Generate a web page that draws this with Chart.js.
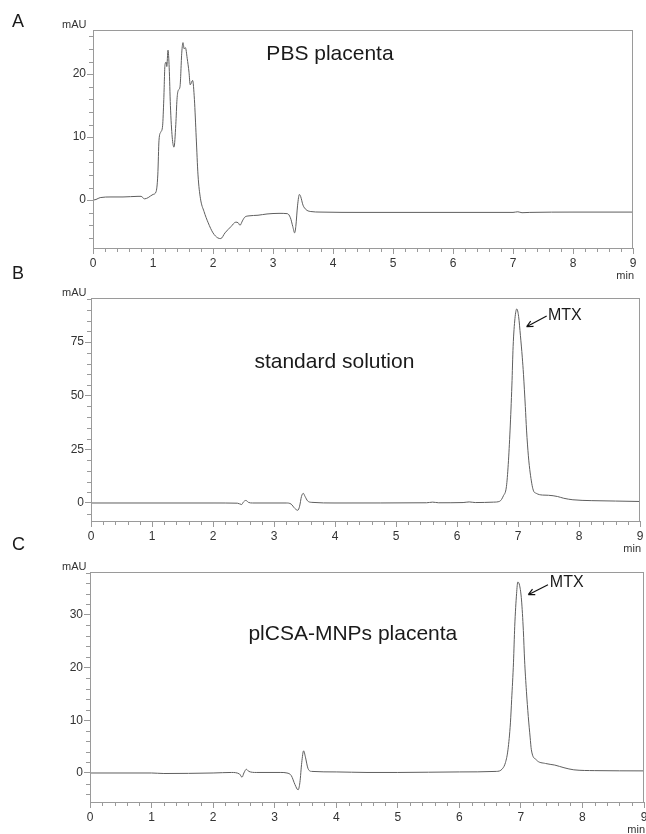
<!DOCTYPE html>
<html>
<head>
<meta charset="utf-8">
<script src="https://cdn.jsdelivr.net/npm/chart.js@4.4.0/dist/chart.umd.min.js"></script>
<style>
  html, body { margin: 0; padding: 0; background: #fff; }
  #wrap { position: relative; width: 646px; height: 834px; }
  #wrap canvas { position: absolute; left: 0; top: 0; }
</style>
</head>
<body>
<div id="wrap">
  <canvas id="chartA" width="646" height="834"></canvas>
  <canvas id="chartB" width="646" height="834"></canvas>
  <canvas id="chartC" width="646" height="834"></canvas>
</div>
<script>
// ── DATA (retention time in min, absorbance in mAU) ───────────────────
const timesA = [0, 0.05, 0.12, 0.3, 0.5, 0.75, 0.8, 0.86, 0.92, 1.0, 1.05, 1.08, 1.1, 1.13, 1.16, 1.18, 1.2, 1.22, 1.23, 1.25, 1.27, 1.29, 1.32, 1.35, 1.38, 1.4, 1.42, 1.45, 1.48, 1.5, 1.52, 1.54, 1.57, 1.6, 1.62, 1.66, 1.69, 1.72, 1.75, 1.79, 1.85, 1.92, 2.0, 2.08, 2.13, 2.2, 2.3, 2.38, 2.42, 2.45, 2.49, 2.53, 2.6, 2.75, 2.9, 3.1, 3.24, 3.29, 3.33, 3.36, 3.38, 3.41, 3.44, 3.46, 3.5, 3.55, 3.62, 3.8, 4.5, 5.5, 7.0, 7.08, 7.15, 7.28, 8.0, 9.0];
const valuesA = [0, 0.1, 0.4, 0.5, 0.5, 0.6, 0.6, 0.2, 0.4, 0.9, 1.3, 4, 9.5, 10.8, 11.8, 16, 21.5, 21.9, 21.2, 23.8, 21, 15, 10, 8.4, 12, 16, 17.4, 18, 23.5, 25, 24, 24.2, 22.5, 20.3, 18.3, 19, 16, 10, 4, 0.3, -1.8, -3.6, -5.2, -6.0, -6.1, -5.2, -4.2, -3.5, -3.6, -4.0, -3.3, -2.7, -2.5, -2.4, -2.2, -2.1, -2.15, -2.8, -4.2, -5.2, -4.2, -0.8, 0.9, 0.6, -0.8, -1.5, -1.8, -1.9, -1.95, -1.95, -1.95, -1.85, -2.0, -1.95, -1.9, -1.9];

const timesB = [0, 2.0, 2.4, 2.47, 2.5, 2.54, 2.58, 2.65, 3.2, 3.28, 3.34, 3.39, 3.42, 3.45, 3.48, 3.51, 3.55, 3.62, 4.0, 5.5, 5.6, 5.7, 6.1, 6.2, 6.3, 6.6, 6.7, 6.76, 6.81, 6.84, 6.87, 6.9, 6.92, 6.95, 6.98, 7.01, 7.04, 7.07, 7.09, 7.12, 7.14, 7.17, 7.2, 7.25, 7.3, 7.4, 7.5, 7.65, 7.75, 7.9, 8.2, 8.6, 9.0];
const valuesB = [0, 0, -0.1, -0.7, 0.5, 1.2, 0.3, 0, 0, -0.5, -2.5, -3.4, -1.5, 3, 4.5, 3, 1, 0.3, 0, 0.1, 0.4, 0.1, 0.2, 0.5, 0.2, 0.4, 0.8, 3.3, 7.6, 18, 34, 55, 73, 86, 90.5, 87, 78, 68, 60, 45, 34, 22, 14, 6, 4.5, 3.7, 3.6, 3, 2.2, 1.5, 1.1, 0.9, 0.7];

const timesC = [0, 1.0, 1.2, 2.0, 2.3, 2.43, 2.47, 2.5, 2.54, 2.58, 2.7, 3.1, 3.2, 3.27, 3.33, 3.38, 3.41, 3.44, 3.47, 3.5, 3.54, 3.6, 4.0, 4.5, 5.0, 6.0, 6.6, 6.7, 6.75, 6.79, 6.83, 6.85, 6.88, 6.9, 6.93, 6.95, 6.98, 7.01, 7.04, 7.06, 7.09, 7.12, 7.15, 7.17, 7.25, 7.4, 7.55, 7.7, 7.86, 8.2, 9.0];
const valuesC = [0, 0, -0.1, 0, 0.1, -0.2, -0.8, 0, 0.7, 0.3, 0.1, 0.1, 0, -0.5, -2.2, -3.2, -1.8, 2, 4.2, 3, 0.9, 0.3, 0.2, 0.1, 0.1, 0.2, 0.3, 0.8, 2, 4.4, 9.5, 13.9, 21, 27.8, 34, 36.2, 35.5, 32.8, 27, 21.4, 15.5, 10.7, 6.8, 4.4, 2.5, 1.8, 1.5, 1.0, 0.6, 0.45, 0.4];

const xTicksMajor = 1, xTicksMinor = 0.2;
const yRangeA = [-7.6, 27], yStepA = [10, 2];
const yRangeB = [-8.4, 95.6], yStepB = [25, 5];
const yRangeC = [-5.5, 38.1], yStepC = [10, 2];

// ── STYLE ─────────────────────────────────────────────────────────────
const FONT = '"Liberation Sans", Arial, Helvetica, sans-serif';
const AXIS_COLOR = '#9a9a9a';
const TRACE_COLOR = '#5e5e5e';
const TEXT_COLOR = '#1a1a1a';
const CANVAS_H = 834;
const X_AXIS_H = 32;

// ── PLUGIN: frame, minor ticks, labels, annotations ───────────────────
const chromPlugin = {
  id: 'chrom',
  afterDraw(chart, args, opts) {
    const { ctx, chartArea: a, scales: { x, y } } = chart;
    ctx.save();
    // frame
    ctx.strokeStyle = AXIS_COLOR;
    ctx.lineWidth = 1;
    ctx.strokeRect(a.left + 0.5, a.top + 0.5, a.right - a.left - 1, a.bottom - a.top);
    // minor ticks
    ctx.beginPath();
    for (let v = x.min; v <= x.max + 1e-9; v += opts.xMinor) {
      const r = v / opts.xMajor;
      if (Math.abs(r - Math.round(r)) < 1e-6) continue;
      const px = Math.round(x.getPixelForValue(v)) + 0.5;
      ctx.moveTo(px, a.bottom); ctx.lineTo(px, a.bottom + 4);
    }
    for (let v = Math.ceil(y.min / opts.yMinor) * opts.yMinor; v <= y.max + 1e-9; v += opts.yMinor) {
      const r = v / opts.yMajor;
      if (Math.abs(r - Math.round(r)) < 1e-6) continue;
      const py = Math.round(y.getPixelForValue(v)) + 0.5;
      ctx.moveTo(a.left - 4, py); ctx.lineTo(a.left, py);
    }
    ctx.stroke();

    ctx.fillStyle = TEXT_COLOR;
    ctx.textBaseline = 'alphabetic';
    // panel letter
    ctx.font = '18px ' + FONT;
    ctx.textAlign = 'left';
    ctx.fillText(opts.letter, 12, a.top - opts.letterDy);
    // units
    ctx.font = '11px ' + FONT;
    ctx.fillStyle = '#333';
    ctx.fillText('mAU', 62, a.top - 2);
    ctx.textAlign = 'right';
    ctx.fillText('min', a.right + 1, a.bottom + 31);
    // title
    ctx.fillStyle = TEXT_COLOR;
    ctx.font = '21px ' + FONT;
    ctx.textAlign = 'center';
    ctx.fillText(opts.title.text, x.getPixelForValue(opts.title.x), y.getPixelForValue(opts.title.y));
    // MTX arrow
    if (opts.arrow) {
      const ar = opts.arrow;
      const tx = x.getPixelForValue(ar.tip[0]), ty = y.getPixelForValue(ar.tip[1]);
      const sx = x.getPixelForValue(ar.tail[0]), sy = y.getPixelForValue(ar.tail[1]);
      ctx.strokeStyle = '#111';
      ctx.lineWidth = 1.2;
      ctx.beginPath();
      ctx.moveTo(sx, sy); ctx.lineTo(tx, ty);
      const ang = Math.atan2(ty - sy, tx - sx);
      ctx.moveTo(tx, ty); ctx.lineTo(tx - 7 * Math.cos(ang - 0.45), ty - 7 * Math.sin(ang - 0.45));
      ctx.moveTo(tx, ty); ctx.lineTo(tx - 7 * Math.cos(ang + 0.45), ty - 7 * Math.sin(ang + 0.45));
      ctx.stroke();
      ctx.font = '16px ' + FONT;
      ctx.textAlign = 'left';
      ctx.fillText('MTX', x.getPixelForValue(ar.text[0]), y.getPixelForValue(ar.text[1]));
    }
    ctx.restore();
  }
};

// ── CHART FACTORY ─────────────────────────────────────────────────────
function makeChrom(id, times, values, yRange, yStep, box, ann) {
  const points = times.map((t, i) => ({ x: t, y: values[i] }));
  return new Chart(document.getElementById(id), {
    type: 'line',
    data: { datasets: [{ data: points, borderColor: TRACE_COLOR, borderWidth: 1, pointRadius: 0, cubicInterpolationMode: 'monotone', fill: false }] },
    plugins: [chromPlugin],
    options: {
      responsive: false, animation: false, events: [],
      layout: { padding: { left: 0, top: box.top, right: 646 - box.right, bottom: CANVAS_H - box.bottom - X_AXIS_H } },
      plugins: {
        legend: { display: false }, tooltip: { enabled: false },
        chrom: { xMajor: xTicksMajor, xMinor: xTicksMinor, yMajor: yStep[0], yMinor: yStep[1], ...ann }
      },
      scales: {
        x: {
          type: 'linear', min: 0, max: 9,
          ticks: { stepSize: xTicksMajor, color: '#333', font: { family: FONT, size: 12 }, padding: 2, maxRotation: 0, includeBounds: false },
          grid: { drawOnChartArea: false, tickLength: 6, color: AXIS_COLOR },
          border: { color: AXIS_COLOR },
          afterFit: s => { s.height = X_AXIS_H; s.paddingLeft = 0; s.paddingRight = 0; }
        },
        y: {
          min: yRange[0], max: yRange[1],
          ticks: { stepSize: yStep[0], color: '#333', font: { family: FONT, size: 12 }, padding: 1, includeBounds: false },
          grid: { drawOnChartArea: false, tickLength: 6, color: AXIS_COLOR },
          border: { color: AXIS_COLOR },
          afterFit: s => { s.width = box.left; s.paddingTop = 0; s.paddingBottom = 0; }
        }
      }
    }
  });
}

makeChrom('chartA', timesA, valuesA, yRangeA, yStepA,
  { top: 30, bottom: 248, left: 93, right: 633 },
  { letter: 'A', letterDy: 3, title: { text: 'PBS placenta', x: 3.95, y: 22.3 } });

makeChrom('chartB', timesB, valuesB, yRangeB, yStepB,
  { top: 298, bottom: 521, left: 91, right: 640 },
  { letter: 'B', letterDy: 19, title: { text: 'standard solution', x: 3.99, y: 63 },
    arrow: { tip: [7.14, 82.2], tail: [7.47, 87.2], text: [7.49, 85.4] } });

makeChrom('chartC', timesC, valuesC, yRangeC, yStepC,
  { top: 572, bottom: 802, left: 90, right: 644 },
  { letter: 'C', letterDy: 22, title: { text: 'plCSA-MNPs placenta', x: 4.27, y: 25.2 },
    arrow: { tip: [7.12, 33.8], tail: [7.44, 35.7], text: [7.47, 35.3] } });
</script>
</body>
</html>
